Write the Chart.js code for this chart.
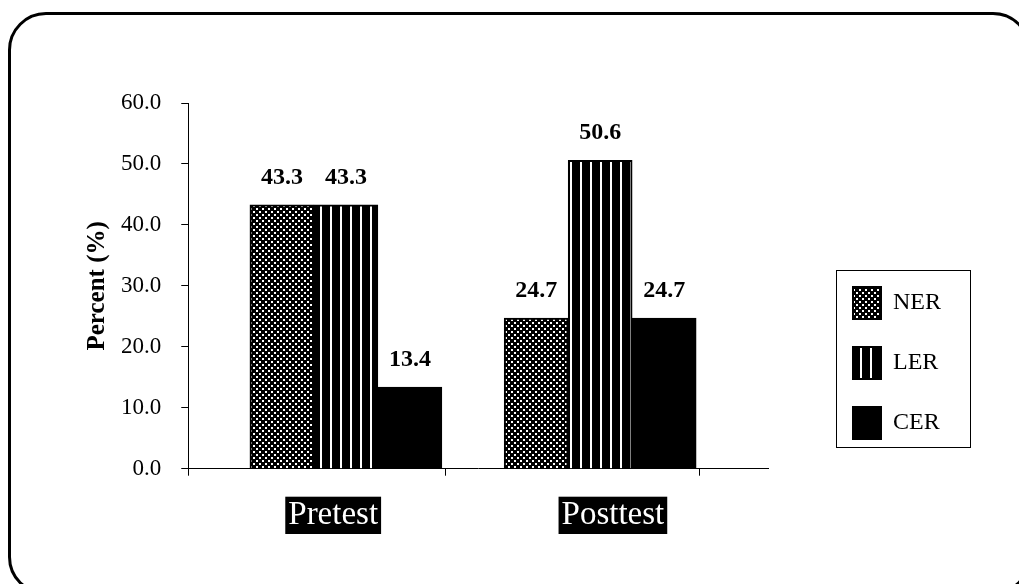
<!DOCTYPE html>
<html>
<head>
<meta charset="utf-8">
<script src="https://cdn.jsdelivr.net/npm/chart.js@4.4.1/dist/chart.umd.min.js"></script>
<style>
  html, body { margin: 0; padding: 0; background: #fff; width: 1019px; height: 584px; overflow: hidden; }
  #frame { position: absolute; left: 8px; top: 12px; width: 1023px; height: 583px; box-sizing: border-box;
           border: 3px solid #000; border-radius: 38px; }
  #wrap { position: absolute; left: 0; top: 0; width: 1019px; height: 584px; }
</style>
</head>
<body>
<div id="frame"></div>
<div id="wrap"><canvas id="chart" width="1019" height="584"></canvas></div>
<script>
// Groups on the x axis and the three error-type series (percent of students)
const categories = ['Pretest', 'Posttest'];
const seriesNames = ['NER', 'LER', 'CER'];
const nerValues = [43.3, 24.7];
const lerValues = [43.3, 50.6];
const cerValues = [13.4, 24.7];
const yTickValues = [0, 10, 20, 30, 40, 50, 60];

const SERIF = '"Liberation Serif", "Times New Roman", serif';
Chart.defaults.font.family = SERIF;
Chart.defaults.color = '#000';

// Fill patterns: dotted, vertical stripes, solid
function dotPattern() {
  const c = document.createElement('canvas');
  c.width = 6; c.height = 6;
  const g = c.getContext('2d');
  g.fillStyle = '#000'; g.fillRect(0, 0, 6, 6);
  g.fillStyle = '#fff';
  g.fillRect(1, 1, 2, 2);
  g.fillRect(4, 4, 2, 2);
  return g.createPattern(c, 'repeat');
}
function stripePattern() {
  const c = document.createElement('canvas');
  c.width = 10; c.height = 10;
  const g = c.getContext('2d');
  g.fillStyle = '#000'; g.fillRect(0, 0, 10, 10);
  g.fillStyle = '#fff'; g.fillRect(0, 0, 2, 10);
  return g.createPattern(c, 'repeat');
}

const fills = [dotPattern(), stripePattern(), '#000'];
const seriesValues = [nerValues, lerValues, cerValues];

const datasets = seriesNames.map((name, s) => ({
  label: name,
  data: seriesValues[s].map((v, i) => ({ x: i, y: v })),
  backgroundColor: fills[s],
  borderColor: '#000',
  borderWidth: 2,
  barThickness: 64
}));

// Value printed above each bar
const valueLabels = {
  id: 'valueLabels',
  afterDatasetsDraw(chart) {
    const ctx = chart.ctx;
    ctx.save();
    ctx.font = 'bold 24px ' + SERIF;
    ctx.fillStyle = '#000';
    ctx.textAlign = 'center';
    ctx.textBaseline = 'middle';
    chart.data.datasets.forEach((ds, di) => {
      chart.getDatasetMeta(di).data.forEach((bar, i) => {
        ctx.fillText(ds.data[i].y.toFixed(1), bar.x, bar.y - 27);
      });
    });
    ctx.restore();
  }
};

// Legend placed in a framed box to the right of the plot
const LEGEND_BOX = { left: 836, top: 270, right: 970, bottom: 447, inset: 17, itemTop: 287 };
const legendFrame = {
  id: 'legendFrame',
  afterLayout(chart) {
    const lg = chart.legend;
    if (!lg) return;
    const pad = lg.options.labels.padding;
    lg.left = LEGEND_BOX.left + LEGEND_BOX.inset - pad;
    lg.right = LEGEND_BOX.right;
    lg.top = LEGEND_BOX.itemTop - pad;
    lg.bottom = chart.height;
    lg.width = lg.right - lg.left;
    lg.height = lg.bottom - lg.top;
  },
  afterDraw(chart) {
    const ctx = chart.ctx;
    ctx.save();
    ctx.strokeStyle = '#000';
    ctx.lineWidth = 1;
    ctx.strokeRect(LEGEND_BOX.left + 0.5, LEGEND_BOX.top + 0.5,
                   LEGEND_BOX.right - LEGEND_BOX.left, LEGEND_BOX.bottom - LEGEND_BOX.top);
    ctx.restore();
  }
};

// x range in category units; group labels sit slightly wider apart than the bar groups
const X_MIN = -0.62, X_MAX = 1.66, GROUP_EDGE = 0.39;
const LABEL_SPREAD = 1.1, LABEL_SHIFT = -0.05;

new Chart(document.getElementById('chart'), {
  type: 'bar',
  data: { datasets },
  plugins: [valueLabels, legendFrame],
  options: {
    responsive: false,
    animation: false,
    layout: { padding: { left: 83, top: 103, right: 251, bottom: 30 } },
    plugins: {
      tooltip: { enabled: false },
      legend: {
        position: 'chartArea',
        align: 'start',
        labels: {
          boxWidth: 28,
          boxHeight: 32,
          padding: 28,
          color: '#000',
          font: { size: 24, family: SERIF }
        }
      }
    },
    scales: {
      x: {
        type: 'linear',
        min: X_MIN,
        max: X_MAX,
        offset: false,
        afterBuildTicks(scale) {
          const t = [{ value: X_MIN }];
          categories.forEach((c, i) => {
            t.push({ value: i * LABEL_SPREAD + LABEL_SHIFT, cat: i });
            t.push({ value: i + GROUP_EDGE });
          });
          t.sort((a, b) => a.value - b.value);
          scale.ticks = t;
        },
        grid: {
          offset: false,
          drawOnChartArea: false,
          drawTicks: true,
          tickLength: 7,
          tickColor: (ctx) => (ctx.tick && ctx.tick.label) ? 'rgba(0,0,0,0)' : '#000'
        },
        border: { display: true, color: '#000', width: 1 },
        ticks: {
          autoSkip: false,
          maxRotation: 0,
          padding: 21,
          color: '#fff',
          font: { size: 33, family: SERIF, lineHeight: 1.1 },
          showLabelBackdrop: true,
          backdropPadding: { top: 0, bottom: 1, left: 3, right: 3 },
          backdropColor: (ctx) => (ctx.tick && ctx.tick.label) ? '#000' : 'rgba(0,0,0,0)',
          callback: (v, idx, ticks) => (ticks[idx] && ticks[idx].cat !== undefined) ? categories[ticks[idx].cat] : ''
        }
      },
      y: {
        min: 0,
        max: 60,
        afterBuildTicks(scale) {
          scale.ticks = yTickValues.map(v => ({ value: v }));
        },
        grid: { drawOnChartArea: false, drawTicks: true, tickLength: 7, tickColor: '#000' },
        border: { display: true, color: '#000', width: 1 },
        ticks: {
          padding: 20,
          color: '#000',
          font: { size: 23, family: SERIF },
          callback: (v) => Number(v).toFixed(1)
        },
        title: {
          display: true,
          text: 'Percent (%)',
          color: '#000',
          font: { size: 25, weight: 'bold', family: SERIF },
          padding: { top: 0, bottom: -12 }
        }
      }
    }
  }
});
</script>
</body>
</html>
